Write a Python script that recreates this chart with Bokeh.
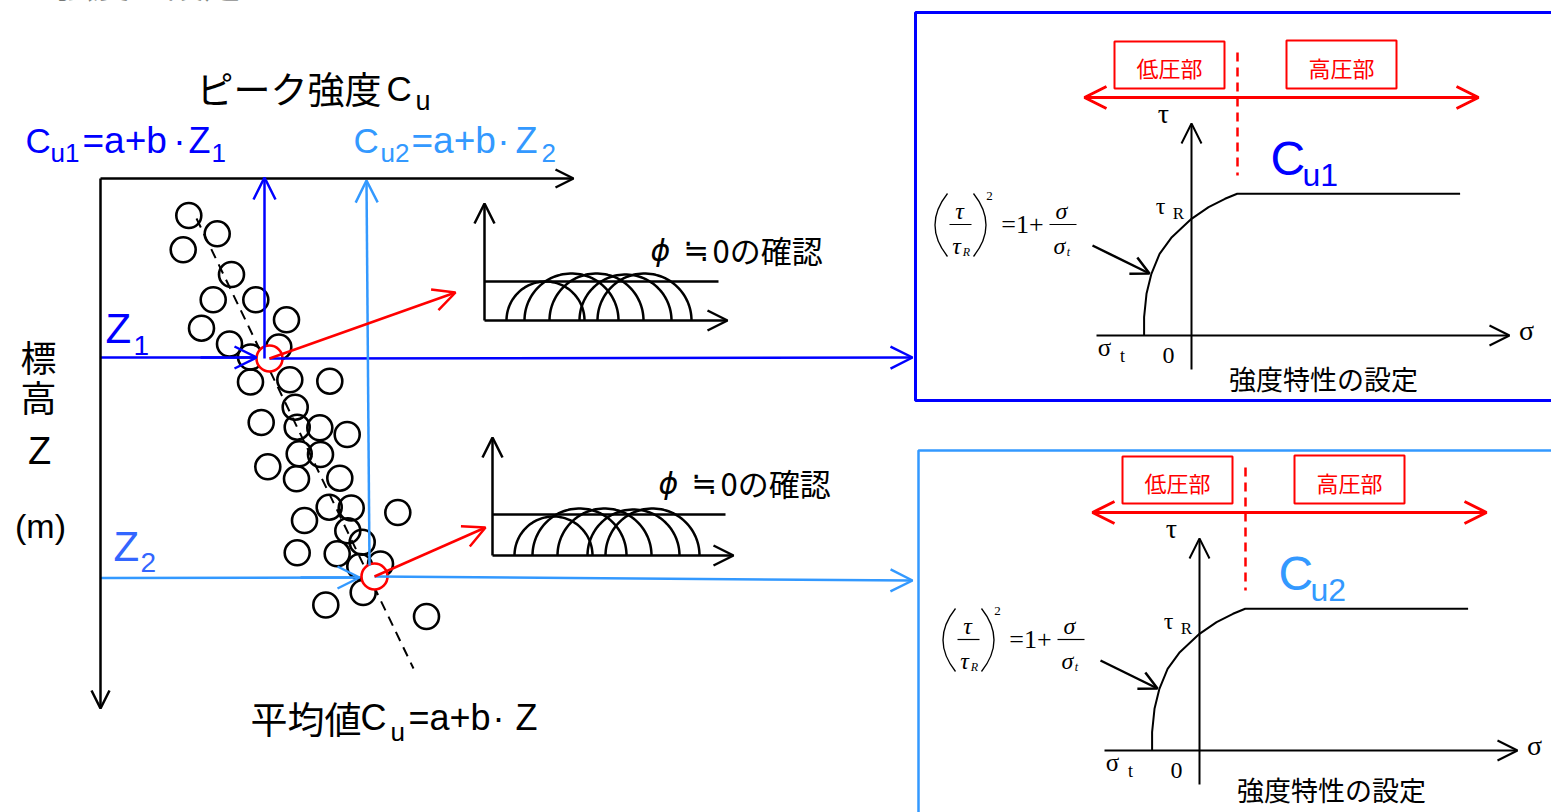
import numpy as np
from bokeh.plotting import figure
from bokeh.models import Range1d, Arrow, OpenHead
from bokeh.core.properties import value
from bokeh.embed import file_html
from bokeh.resources import INLINE

# ---------------- data (diagram units = pixels of the sketch) ----------------
# peak strength samples: Cu (horizontal) against elevation Z (downwards)
cu_samples = [188.3, 216.7, 182.7, 231.0, 212.7, 255.3, 286.0, 201.0, 229.0, 278.3,
              250.0, 250.0, 289.3, 329.3, 294.7, 260.7, 296.7, 319.3, 346.7, 298.7,
              320.0, 267.3, 296.0, 339.3, 328.7, 350.7, 397.3, 304.0, 347.3, 361.7,
              296.7, 336.7, 380.0, 359.3, 362.7, 325.3, 426.0]
z_samples = [215.0, 233.3, 249.3, 274.0, 299.3, 299.3, 319.3, 327.7, 343.5, 346.5,
             356.5, 381.5, 379.3, 380.7, 406.7, 422.0, 426.7, 427.3, 434.0, 453.3,
             454.0, 466.3, 478.3, 477.7, 506.7, 507.5, 512.0, 520.0, 530.3, 541.7,
             552.3, 553.3, 563.5, 566.0, 592.0, 604.5, 616.0]
# mean line Cu = a + b Z (end points of the dashed line)
mean_cu = [196.0, 413.0]
mean_z = [218.0, 668.0]
# the two picked depths Z1, Z2 and their mean strengths Cu1, Cu2
pick_cu = [269.0, 374.0]
pick_z = [358.0, 576.0]

# Mohr circles (centre offset from tau axis, radius), shared by both small plots
mohr_centre = [61.0, 87.0, 112.0, 141.0, 160.0]
mohr_radius = [39.0, 47.0, 47.0, 46.0, 47.0]

# strength curve of the right-hand panels (sigma, tau) relative to the origin
curve_sigma = [-47.4, -47.4, -45.0, -40.1, -31.9, -19.7, 0.0, 17.1, 33.5, 45.7, 268.6]
curve_tau = [0.0, 18.3, 41.7, 61.7, 81.7, 98.3, 116.7, 128.3, 136.7, 141.7, 141.7]

BLUE = "#0000FF"
LBLUE = "#3399FF"
ZBLUE = "#3366FF"
RED = "#FF0000"
SANS = "Liberation Sans"
CJK = "Noto Sans CJK JP"
SERIF = "Liberation Serif"

W, H = 1551, 812
p = figure(width=W, height=H, x_range=Range1d(0, W), y_range=Range1d(H, 0),
           output_backend="svg", toolbar_location=None, min_border=0,
           x_axis_type=None, y_axis_type=None)
p.grid.visible = False
p.outline_line_color = None
p.background_fill_color = "white"


def txt(x, y, s, size, color="black", font=SANS, align="left", baseline="middle", style="normal"):
    p.text(x=[x], y=[y], text=[s], text_font=value(font), text_font_size=value(f"{size}px"),
           text_color=color, text_align=align, text_baseline=baseline, text_font_style=style)


def arrow(x0, y0, x1, y1, color="black", lw=2.5, head=18, both=False):
    kw = {}
    if both:
        kw["start"] = OpenHead(size=head, line_color=color, line_width=lw)
    p.add_layout(Arrow(end=OpenHead(size=head, line_color=color, line_width=lw),
                       x_start=x0, y_start=y0, x_end=x1, y_end=y1,
                       line_color=color, line_width=lw, **kw))


# clipped line of the preceding slide text
txt(18, -19, "た強度を設定している。", 37, font=CJK)

# ---------------- left: Cu - Z diagram ----------------
arrow(100, 178, 573, 178)            # Cu axis
arrow(100, 178, 100, 708)            # Z axis

# blue / light-blue construction lines
p.line([100, 262], [357, 357], line_color=BLUE, line_width=2.5)
arrow(200, 357, 256, 357, color=BLUE, head=22)
arrow(pick_cu[0], pick_z[0], 912, 357, color=BLUE, head=22)
arrow(264, pick_z[0], 264, 177, color=BLUE, head=22)

p.line([100, 365], [577.5, 577], line_color=LBLUE, line_width=2.5)
arrow(300, 577, 359, 577, color=LBLUE, head=22)
arrow(pick_cu[1], pick_z[1], 912, 580, color=LBLUE, head=22)
arrow(369, 565, 366, 180, color=LBLUE, head=22)

# mean line and samples
p.line(mean_cu, mean_z, line_color="black", line_width=2, line_dash="10 7")
p.scatter(cu_samples, z_samples, size=25, marker="circle", fill_color=None,
          line_color="black", line_width=2.6)

# red arrows to Mohr plots
arrow(pick_cu[0], pick_z[0], 455, 292, color=RED, head=22)
arrow(pick_cu[1], pick_z[1], 485, 527, color=RED, head=22)
p.scatter(pick_cu, pick_z, size=26, marker="circle", fill_color="white",
          line_color=RED, line_width=2.6)

# texts of the left diagram
txt(196, 87, "ピーク強度", 37, font=CJK)
txt(386, 88, "C", 35)
txt(415, 100, "u", 27)

for (x0, col, sub, xs) in [(25, BLUE, "1", (50, 82, 179, 188, 211)),
                           (353, LBLUE, "2", (380, 411, 503, 515, 541))]:
    txt(x0, 140, "C", 35, color=col)
    txt(xs[0], 152, "u" + sub, 26, color=col)
    txt(xs[1], 140, "=a+b", 37, color=col)
    txt(xs[2], 140, "·", 37, color=col, align="center")
    txt(xs[3], 140, "Z", 36, color=col)
    txt(xs[4], 152, sub, 26, color=col)

txt(105, 328, "Z", 42, color=BLUE)
txt(133, 345, "1", 28, color=BLUE)
txt(113, 546, "Z", 42, color=ZBLUE)
txt(140, 562, "2", 28, color=ZBLUE)

txt(38, 355, "標", 36, font=CJK, align="center")
txt(38, 395, "高", 36, font=CJK, align="center")
txt(39, 450, "Z", 38, align="center")
txt(40, 525, "(m)", 34, align="center")

txt(250, 717, "平均値", 37, font=CJK)
txt(360, 717, "C", 36)
txt(390, 731, "u", 26)
txt(408, 717, "=a+b", 36)
txt(498, 717, "·", 36, align="center")
txt(515, 717, "Z", 36)

# ---------------- small Mohr plots ----------------
for (ox, oy, env_y, env_x1, tip_y, tip_x, tx, ty) in [(484, 320, 281, 718, 203, 727, 650, 249),
                                                        (492, 555, 514, 725, 437, 733, 658, 482)]:
    arrow(ox, oy, ox, tip_y, head=20)
    arrow(ox, oy, tip_x, oy, head=20)
    p.line([ox, env_x1], [env_y, env_y], line_color="black", line_width=2.5)
    th = np.linspace(0, np.pi, 60)
    xs = [list(ox + c + r * np.cos(th)) for c, r in zip(mohr_centre, mohr_radius)]
    ys = [list(oy - r * np.sin(th)) for r in mohr_radius]
    p.multi_line(xs, ys, line_color="black", line_width=2.5)
    txt(tx, ty + 1, "ϕ", 30, font="DejaVu Sans", style="italic")
    txt(tx + 46, ty, "≒", 31, font="DejaVu Sans", align="center")
    txt(tx + 62, ty, "0の確認", 31, font=CJK)

# ---------------- right panels ----------------
p.quad(left=[915], right=[1600], top=[12], bottom=[400], fill_color=None,
       line_color=BLUE, line_width=3)
p.quad(left=[918], right=[1600], top=[450], bottom=[900], fill_color=None,
       line_color=LBLUE, line_width=2.5)


def panel(dx, dy, col, sub, title_y):
    X = lambda v: v + dx
    Y = lambda v: v + dy
    # red zone boxes
    p.quad(left=[X(1114), X(1286)], right=[X(1224), X(1396)], top=[Y(41), Y(40)],
           bottom=[Y(88), Y(88)], fill_color=None, line_color=RED, line_width=2)
    txt(X(1169), Y(66), "低圧部", 22, color=RED, font=CJK, align="center")
    txt(X(1341), Y(66), "高圧部", 22, color=RED, font=CJK, align="center")
    arrow(X(1084), Y(97), X(1478), Y(97), color=RED, lw=3, head=22, both=True)
    p.line([X(1237), X(1237)], [Y(52), Y(175)], line_color=RED, line_width=2.5, line_dash="9 6")
    # axes
    ox, oy = X(1191), Y(335)
    arrow(ox, Y(369), ox, Y(123), lw=2, head=20)
    arrow(X(1096), oy, X(1509), oy, lw=2, head=20)
    txt(X(1163), Y(113), "τ", 28, font=SERIF, align="center")
    txt(X(1526), Y(330), "σ", 28, font=SERIF, align="center")
    # strength curve
    p.line([ox + s for s in curve_sigma], [oy - t for t in curve_tau],
           line_color="black", line_width=2)
    txt(X(1270), Y(158), "C", 48, color=col)
    txt(X(1302), Y(174), "u" + sub, 32, color=col)
    txt(X(1160), Y(205), "τ", 24, font=SERIF, align="center")
    txt(X(1178), Y(213), "R", 17, font=SERIF, align="center")
    txt(X(1104), Y(347), "σ", 25, font=SERIF, align="center")
    txt(X(1122), Y(355), "t", 18, font=SERIF, align="center")
    txt(X(1168), Y(355), "0", 24, font=SERIF, align="center")
    txt(X(1323), title_y, "強度特性の設定", 27, font=CJK, align="center")
    # equation (tau/tau_R)^2 = 1 + sigma/sigma_t
    p.quadratic(x0=[X(947), X(973)], y0=[Y(193), Y(193)], x1=[X(947), X(973)], y1=[Y(256), Y(256)],
                cx=[X(922), X(998)], cy=[Y(224.5), Y(224.5)], line_color="black", line_width=1.3)
    p.line([X(949), X(971)], [Y(224), Y(224)], line_color="black", line_width=1.2)
    p.line([X(1049), X(1076)], [Y(224), Y(224)], line_color="black", line_width=1.2)
    txt(X(959), Y(210), "τ", 24, font=SERIF, align="center", style="italic")
    txt(X(956), Y(245), "τ", 24, font=SERIF, align="center", style="italic")
    txt(X(966), Y(251), "R", 12, font=SERIF, align="center", style="italic")
    txt(X(989), Y(195), "2", 13, font=SERIF, align="center")
    txt(X(1022), Y(224), "=1+", 26, font=SERIF, align="center")
    txt(X(1061), Y(210), "σ", 24, font=SERIF, align="center", style="italic")
    txt(X(1059), Y(245), "σ", 24, font=SERIF, align="center", style="italic")
    txt(X(1068), Y(251), "t", 12, font=SERIF, align="center", style="italic")
    arrow(X(1092), Y(245), X(1149), Y(273), lw=2.5, head=18)


panel(0, 0, BLUE, "1", 378)
panel(8, 415, LBLUE, "2", 789)

open("out.html", "w").write(file_html(p, INLINE))
